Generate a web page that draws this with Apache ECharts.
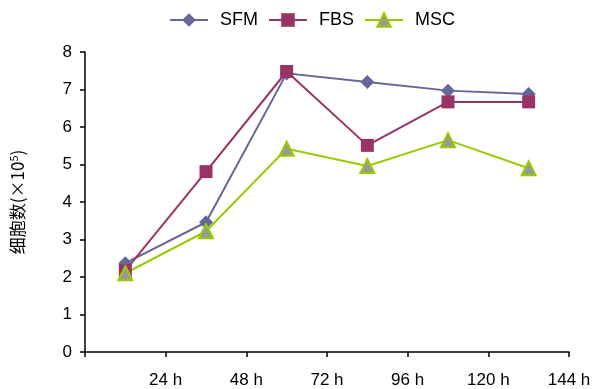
<!DOCTYPE html>
<html><head><meta charset="utf-8">
<script src="https://cdn.jsdelivr.net/npm/echarts@6/dist/echarts.min.js"></script>
<style>html,body{margin:0;padding:0;background:#fff}#c{width:596px;height:389px}</style>
</head><body><div id="c"></div>
<script>
const hours = [12, 36, 60, 84, 108, 132];
const xTicks = [24, 48, 72, 96, 120, 144];
const yTicks = [0, 1, 2, 3, 4, 5, 6, 7, 8];
const sfm = [2.37, 3.46, 7.43, 7.20, 6.97, 6.88];
const fbs = [2.17, 4.81, 7.48, 5.51, 6.67, 6.67];
const msc = [2.10, 3.22, 5.42, 4.96, 5.65, 4.90];

const pair = (arr) => arr.map((v, i) => [hours[i], v]);
const chart = echarts.init(document.getElementById('c'));
const font = 'Liberation Sans, Arial, sans-serif';
chart.setOption({
  animation: false,
  textStyle: { fontFamily: font },
  legend: {
    top: 6, left: 164, itemWidth: 38, itemHeight: 17, itemGap: 10,
    textStyle: { fontSize: 18, color: '#000', fontFamily: font, padding: [0, 0, 0, 7] },
    data: ['SFM', 'FBS', 'MSC']
  },
  grid: { left: 85, right: 27, top: 52, bottom: 37 },
  xAxis: {
    type: 'value', min: 0, max: 144, interval: 24,
    axisLine: { lineStyle: { color: '#000', width: 1.5 } },
    axisTick: { show: true, length: 5, lineStyle: { color: '#000', width: 1.5 } },
    splitLine: { show: false },
    axisLabel: { fontSize: 17, color: '#000', margin: 20, fontFamily: font,
      formatter: v => xTicks.includes(v) ? v + ' h' : '' }
  },
  yAxis: {
    type: 'value', min: 0, max: 8, interval: 1,
    name: '细胞数(×10{sup|5})', nameLocation: 'middle', nameGap: 58,
    nameTextStyle: { fontSize: 17, color: '#000', fontFamily: 'Noto Sans CJK SC, ' + font,
      rich: { sup: { fontSize: 11, verticalAlign: 'top', padding: [0, 0, 8, 0], color: '#000' } } },
    axisLine: { show: true, lineStyle: { color: '#000', width: 1.5 } },
    axisTick: { show: true, length: 5, lineStyle: { color: '#000', width: 1.5 } },
    splitLine: { show: false },
    axisLabel: { fontSize: 17, color: '#000', margin: 13, fontFamily: font,
      formatter: v => yTicks.includes(v) ? String(v) : '' }
  },
  series: [
    { name: 'SFM', type: 'line', data: pair(sfm), symbol: 'diamond', symbolSize: 14,
      lineStyle: { color: '#666699', width: 2 }, itemStyle: { color: '#666699' } },
    { name: 'FBS', type: 'line', data: pair(fbs), symbol: 'rect', symbolSize: 13,
      lineStyle: { color: '#993366', width: 2 },
      itemStyle: { color: '#993366' } },
    { name: 'MSC', type: 'line', data: pair(msc), symbol: 'triangle', symbolSize: 14,
      lineStyle: { color: '#99CC00', width: 2 },
      itemStyle: { color: '#999999', borderColor: '#99CC00', borderWidth: 2 } }
  ]
});
</script></body></html>
